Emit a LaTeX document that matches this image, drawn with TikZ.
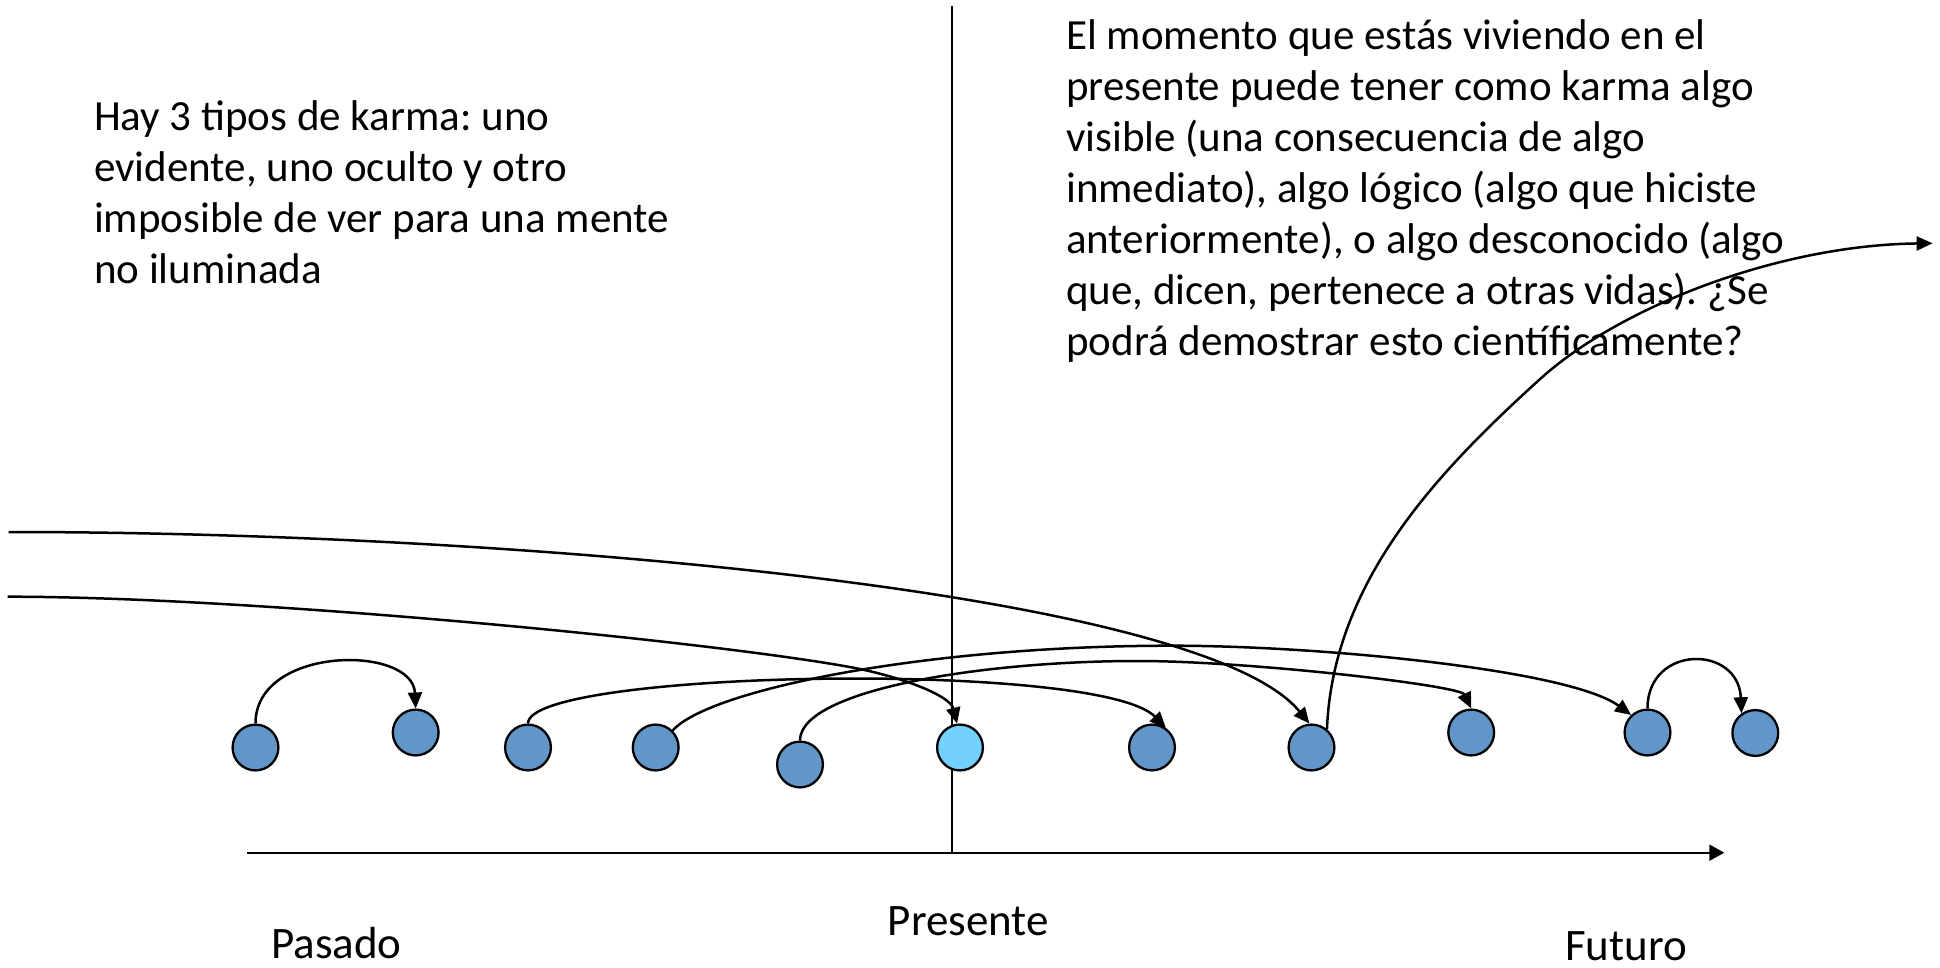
\documentclass[tikz,border=0pt]{standalone}
\usepackage{fontspec}
\setmainfont{Carlito}
\usetikzlibrary{arrows.meta}
\definecolor{dotblue}{RGB}{98,150,200}
\definecolor{nowblue}{RGB}{115,210,253}
\frenchspacing
\begin{document}
\begin{tikzpicture}[x=0.5pt,y=-0.5pt,
  dot/.style={circle, draw=black, line width=1.15pt, fill=dotblue, minimum size=22.9pt, inner sep=0pt},
  nowdot/.style={dot, fill=nowblue},
  link/.style={line width=1.25pt, -{Triangle[length=8pt,width=7pt]}},
  body/.style={inner sep=0pt, font=\frenchspacing\fontsize{21.5pt}{25.5pt}\selectfont, anchor=base west},
  tag/.style={inner sep=0pt, font=\fontsize{22.5pt}{27pt}\selectfont, anchor=base},
  rule/.style={line width=1pt}]
\useasboundingbox (0,0) rectangle (1940,968);
% free ends
\coordinate (vtop) at (951.7,6);
\coordinate (vbot) at (951.7,852.7);
\coordinate (axl) at (247.4,852.7);
\coordinate (axr) at (1724.3,852.7);
\coordinate (farA) at (8.7,532);
\coordinate (farB) at (7.7,596.7);
\coordinate (sky) at (1932.6,243.3);
% time lines
\draw[rule, line width=0.9pt] (vtop) -- (vbot);
\draw[rule, line width=1.1pt, -{Triangle[length=7.5pt,width=8pt]}] (axl) -- (axr);
% texts
\node[body] (lefttxt) at (93.75,131) {\vtop{\hbox{Hay 3 tipos de karma: uno}\hbox{evidente, uno oculto y otro}\hbox{imposible de ver para una mente}\hbox{no iluminada}}};
\node[body] (righttxt) at (1065.8,50) {\vtop{\hbox{El momento que estás viviendo en el}\hbox{presente puede tener como karma algo}\hbox{visible (una consecuencia de algo}\hbox{inmediato), algo lógico (algo que hiciste}\hbox{anteriormente), o algo desconocido (algo}\hbox{que, dicen, pertenece a otras vidas). ¿Se}\hbox{podrá demostrar esto científicamente?}}};
\node[tag] (pasado) at (336.5,958.5) {Pasado};
\node[tag] (presente) at (968.3,935) {Presente};
\node[tag] (futuro) at (1626,960.5) {Futuro};
% events
\node[dot] (c1) at (255.5,747.5) {};
\node[dot] (c2) at (415.7,732.5) {};
\node[dot] (c3) at (528,747.5) {};
\node[dot] (c4) at (655.7,747.5) {};
\node[dot] (c5) at (800,764.5) {};
\node[nowdot] (c6) at (960,747.5) {};
\node[dot] (c7) at (1152,747.5) {};
\node[dot] (c8) at (1311.5,747.5) {};
\node[dot] (c9) at (1471.2,732.5) {};
\node[dot] (c10) at (1647.5,732.5) {};
\node[dot] (c11) at (1755.3,733) {};
% connectors
\draw[link] (c1.north) .. controls +(0,-78) and +(-3,-64) .. (c2.north);
\draw[link] (c10.north) .. controls +(0,-64) and +(-3,-69) .. (c11.125);
\draw[link] (c3.north) .. controls +(0,-53.5) and +(-65.8,-67.8) .. (c7.55);
\draw[link] (c4.45) .. controls +(35,-40) and (922,645.7) .. (1172,645.7)
  .. controls (1322,645.7) and (1570,670) .. (c10.133);
\draw[link] (c5.north) .. controls +(0,-50) and (980,661) .. (1138,661)
  .. controls (1250,661) and (1460.2,685.5) .. (c9.north);
\draw[link] (farA) .. controls (500,532) and (1200,590) .. (c8.95);
\draw[link] (farB) .. controls (250,596.7) and (698,640) .. (848,666.7)
  .. controls (898,675.6) and (950,695) .. (c6.97);
\draw[link] (c8.50) .. controls (1333,580) and (1440,470) .. (1539,380)
  .. controls (1620,306) and (1780,245) .. (sky);
\end{tikzpicture}
\end{document}
